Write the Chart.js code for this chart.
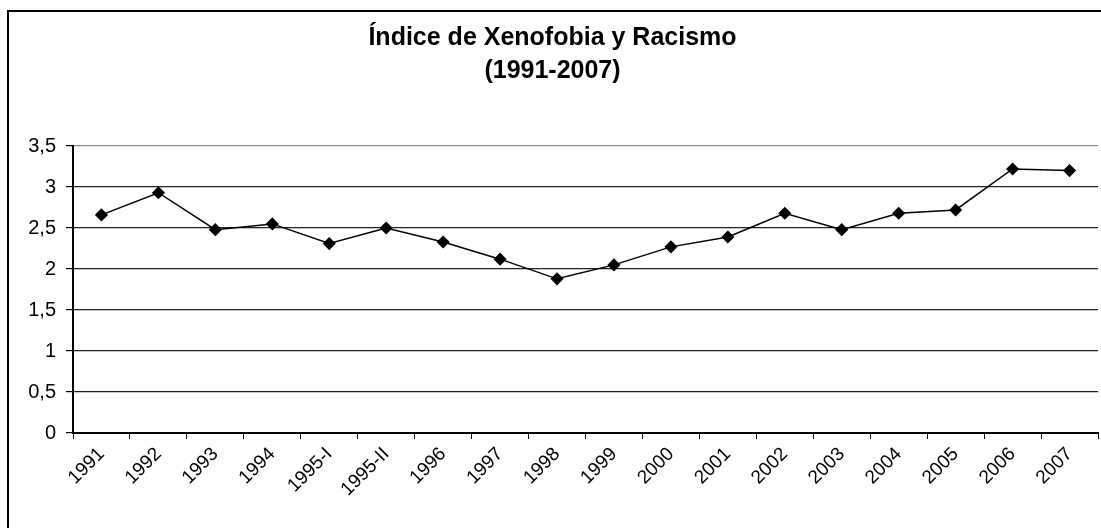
<!DOCTYPE html>
<html>
<head>
<meta charset="utf-8">
<script src="https://cdn.jsdelivr.net/npm/chart.js@4.4.0/dist/chart.umd.min.js"></script>
<style>
  html, body { margin: 0; padding: 0; background: #fff; overflow: hidden; }
  #frame {
    position: absolute; left: 7px; top: 10px;
    width: 1200px; height: 600px;
    border: 2px solid #000;
  }
  #wrap { position: absolute; left: 0; top: 0; width: 1105px; height: 528px; }
</style>
</head>
<body>
<div id="frame"></div>
<div id="wrap"><canvas id="chart"></canvas></div>
<script>
const years = ['1991', '1992', '1993', '1994', '1995-I', '1995-II', '1996', '1997', '1998',
  '1999', '2000', '2001', '2002', '2003', '2004', '2005', '2006', '2007']
const indexValues = [2.66, 2.93, 2.48, 2.55, 2.31, 2.50, 2.33, 2.12, 1.88,
  2.05, 2.27, 2.39, 2.68, 2.48, 2.68, 2.72, 3.22, 3.20]
const titleLines = ['Índice de Xenofobia y Racismo', '(1991-2007)']

const fontFamily = '"Liberation Sans", Arial, sans-serif'

const config = {
  type: 'line',
  data: {
    labels: years,
    datasets: [{
      label: 'Índice',
      data: indexValues,
      borderColor: '#000',
      backgroundColor: '#000',
      borderWidth: 1.5,
      tension: 0,
      pointStyle: 'rectRot',
      pointRadius: 5.5,
      pointBackgroundColor: '#000',
      pointBorderColor: '#000',
    }],
  },
  options: {
    responsive: true,
    maintainAspectRatio: false,
    animation: false,
    layout: { padding: 0 },
    scales: {
      x: {
        type: 'category',
        offset: true,
        afterFit: (s) => { s.height = 95 },
        grid: {
          offset: true,
          drawOnChartArea: true,
          color: (ctx) => (ctx.index === years.length ? '#8c8c8c' : 'rgba(0,0,0,0)'),
          tickColor: '#000',
          tickLength: 6,
          lineWidth: 1,
        },
        border: { color: '#000', width: 2 },
        ticks: {
          color: '#000',
          font: { family: fontFamily, size: 19 },
          minRotation: 45,
          maxRotation: 45,
          autoSkip: false,
          padding: 4,
        },
      },
      y: {
        min: 0,
        max: 3.5,
        afterFit: (s) => { s.width = 73 },
        grid: {
          color: (ctx) => (ctx.tick && ctx.tick.value === 3.5 ? '#8c8c8c' : '#222'),
          tickColor: '#000',
          tickLength: 7,
          lineWidth: 1.2,
        },
        border: { color: '#000', width: 2 },
        ticks: {
          stepSize: 0.5,
          color: '#000',
          font: { family: fontFamily, size: 20 },
          padding: 10,
          callback: (v) => String(v).replace('.', ','),
        },
      },
    },
    plugins: {
      legend: { display: false },
      tooltip: { enabled: false },
      title: {
        display: true,
        text: titleLines,
        color: '#000',
        font: { family: fontFamily, size: 25, weight: 'bold', lineHeight: 1.32 },
        padding: { top: 22, bottom: 58 },
      },
    },
  },
}

new Chart(document.getElementById('chart').getContext('2d'), config)
</script>
</body>
</html>
